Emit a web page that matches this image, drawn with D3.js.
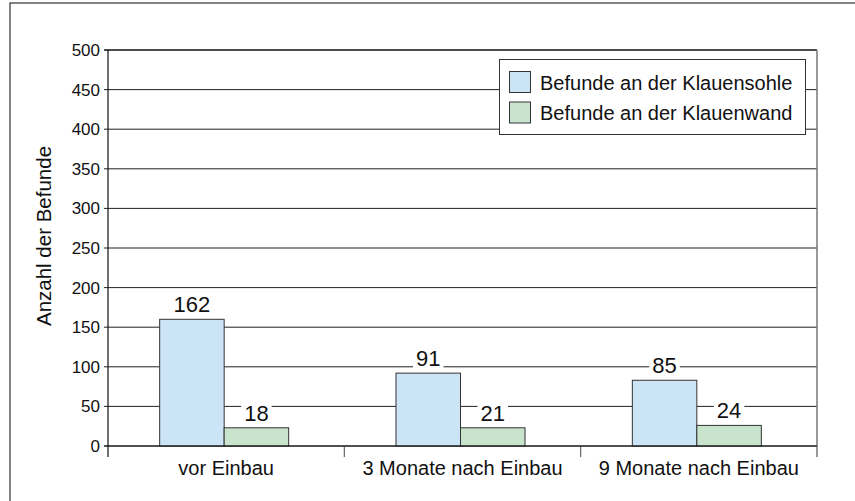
<!DOCTYPE html>
<html>
<head>
<meta charset="utf-8">
<script src="https://cdn.jsdelivr.net/npm/d3@7"></script>
<style>
  body { margin: 0; background: #fff; }
  text { font-family: "Liberation Sans", Arial, Helvetica, sans-serif; fill: #111; }
</style>
</head>
<body>
<script>
// data
var categories = ["vor Einbau", "3 Monate nach Einbau", "9 Monate nach Einbau"];
var seriesNames = ["Befunde an der Klauensohle", "Befunde an der Klauenwand"];
var sohleWerte = [162, 91, 85];   // printed labels
var wandWerte = [18, 21, 24];
// bar heights as drawn in the original (they don't quite match the labels)
var sohleBalken = [160, 92, 83];
var wandBalken = [23, 23, 26];
var yTicks = [0, 50, 100, 150, 200, 250, 300, 350, 400, 450, 500];
var farben = ["#cbe5f7", "#c9e4cd"];

var width = 855, height = 501;
var pLeft = 108, pRight = 817, pTop = 50, pBottom = 446;

var svg = d3.select("body").append("svg")
    .attr("width", width)
    .attr("height", height);

// outer frame (runs off the page on right and bottom)
svg.append("rect")
    .attr("x", 10).attr("y", 3)
    .attr("width", 900).attr("height", 600)
    .attr("fill", "none")
    .attr("stroke", "#333")
    .attr("stroke-width", 1.2);

var y = d3.scaleLinear().domain([0, 500]).range([pBottom, pTop]);
var x0 = d3.scaleBand().domain(categories).range([pLeft, pRight]).paddingInner(0).paddingOuter(0);
var groupW = 129;
var x1 = d3.scaleBand().domain(seriesNames).range([0, groupW]);

// grid lines + y ticks
svg.selectAll("line.grid")
    .data(yTicks)
    .enter().append("line")
    .attr("class", "grid")
    .attr("x1", pLeft - 4).attr("x2", pRight)
    .attr("y1", function(d) { return y(d); })
    .attr("y2", function(d) { return y(d); })
    .attr("stroke", function(d) { return d == 500 ? "#111" : "#222"; })
    .attr("stroke-width", function(d) { return d == 500 ? 1.5 : 1; });

svg.selectAll("text.ytick")
    .data(yTicks)
    .enter().append("text")
    .attr("class", "ytick")
    .attr("x", pLeft - 8)
    .attr("y", function(d) { return y(d) + 6; })
    .attr("text-anchor", "end")
    .style("font-size", "17px")
    .text(function(d) { return d; });

// y axis line
svg.append("line")
    .attr("x1", pLeft).attr("x2", pLeft)
    .attr("y1", pTop).attr("y2", pBottom + 11)
    .attr("stroke", "#111").attr("stroke-width", 1.2);

// right border of plot
svg.append("line")
    .attr("x1", pRight).attr("x2", pRight)
    .attr("y1", pTop).attr("y2", pBottom + 11)
    .attr("stroke", "#777").attr("stroke-width", 1.5);

// category ticks
var grenzen = categories.map(function(c) { return x0(c); }).slice(1);
svg.selectAll("line.ctick")
    .data(grenzen)
    .enter().append("line")
    .attr("class", "ctick")
    .attr("x1", function(d) { return d; })
    .attr("x2", function(d) { return d; })
    .attr("y1", pBottom).attr("y2", pBottom + 11)
    .attr("stroke", "#666").attr("stroke-width", 1.2);

// bars
var reihen = [
    { name: seriesNames[0], balken: sohleBalken, werte: sohleWerte, farbe: farben[0] },
    { name: seriesNames[1], balken: wandBalken, werte: wandWerte, farbe: farben[1] }
];

function gruppeX(c) {
    return x0(c) + (x0.bandwidth() - groupW) / 2 - 2;
}

reihen.forEach(function(r) {
    svg.selectAll(null)
        .data(categories)
        .enter().append("rect")
        .attr("x", function(c) { return gruppeX(c) + x1(r.name); })
        .attr("y", function(c, i) { return y(r.balken[i]); })
        .attr("width", x1.bandwidth())
        .attr("height", function(c, i) { return pBottom - y(r.balken[i]); })
        .attr("fill", r.farbe)
        .attr("stroke", "#333")
        .attr("stroke-width", 1);
});

// x axis baseline drawn over bars
svg.append("line")
    .attr("x1", pLeft - 4).attr("x2", pRight)
    .attr("y1", pBottom).attr("y2", pBottom)
    .attr("stroke", "#111").attr("stroke-width", 1.2);

// value labels with white background
reihen.forEach(function(r) {
    categories.forEach(function(c, i) {
        var cx = gruppeX(c) + x1(r.name) + x1.bandwidth() / 2;
        var by = y(r.balken[i]) - 7;
        var g = svg.append("g");
        var bg = g.append("rect").attr("fill", "#fff");
        var t = g.append("text")
            .attr("x", cx)
            .attr("y", by)
            .attr("text-anchor", "middle")
            .style("font-size", "22px")
            .text(r.werte[i]);
        var bb = t.node().getBBox();
        bg.attr("x", bb.x - 3).attr("y", bb.y)
            .attr("width", bb.width + 6).attr("height", bb.height);
    });
});

// category labels
svg.selectAll("text.cat")
    .data(categories)
    .enter().append("text")
    .attr("class", "cat")
    .attr("x", function(c) { return x0(c) + x0.bandwidth() / 2; })
    .attr("y", 475)
    .attr("text-anchor", "middle")
    .style("font-size", "20px")
    .text(function(c) { return c; });

// y axis title
svg.append("text")
    .attr("transform", "translate(51,236) rotate(-90)")
    .attr("text-anchor", "middle")
    .style("font-size", "20.5px")
    .text("Anzahl der Befunde");

// legend
var legende = svg.append("g");
legende.append("rect")
    .attr("x", 499.5).attr("y", 59.5)
    .attr("width", 306).attr("height", 75)
    .attr("fill", "#fff")
    .attr("stroke", "#333").attr("stroke-width", 1);

var eintraege = legende.selectAll("g.eintrag")
    .data(reihen)
    .enter().append("g")
    .attr("class", "eintrag")
    .attr("transform", function(d, i) { return "translate(509," + (71 + i * 30.5) + ")"; });

eintraege.append("rect")
    .attr("x", 0.5).attr("y", 0.5)
    .attr("width", 21).attr("height", 21)
    .attr("fill", function(d) { return d.farbe; })
    .attr("stroke", "#333");

eintraege.append("text")
    .attr("x", 31)
    .attr("y", 18.5)
    .style("font-size", "20px")
    .text(function(d) { return d.name; });
</script>
</body>
</html>
